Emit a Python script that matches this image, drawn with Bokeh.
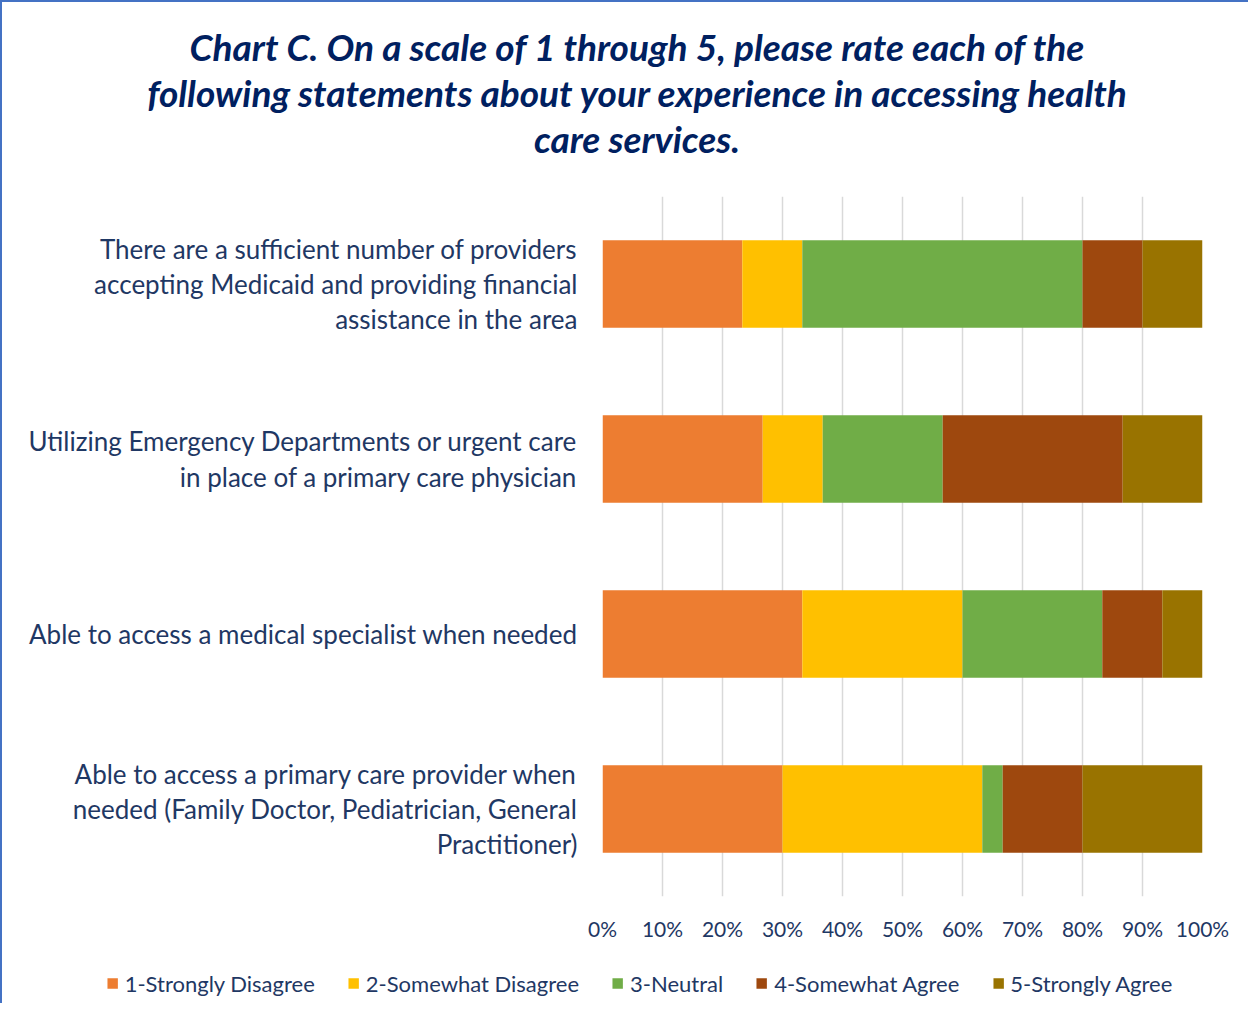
from bokeh.plotting import figure
from bokeh.layouts import column
from bokeh.models import ColumnDataSource, FactorRange, Legend, LegendItem, Div
from bokeh.embed import file_html
from bokeh.resources import INLINE

# ---------------- data ----------------
TITLE_LINES = ["Chart C. On a scale of 1 through 5, please rate each of the",
               "following statements about your experience in accessing health",
               "care services."]

CATEGORIES = [
    "There are a sufficient number of providers\naccepting Medicaid and providing financial\nassistance in the area",
    "Utilizing Emergency Departments or urgent care\nin place of a primary care physician",
    "Able to access a medical specialist when needed",
    "Able to access a primary care provider when\nneeded (Family Doctor, Pediatrician, General\nPractitioner)",
]
LEVELS = ["1-Strongly Disagree", "2-Somewhat Disagree", "3-Neutral",
          "4-Somewhat Agree", "5-Strongly Agree"]

strongly_disagree = [23.3, 26.7, 33.3, 30.0]
somewhat_disagree = [10.0, 10.0, 26.7, 33.3]
neutral           = [46.7, 20.0, 23.3, 3.4]
somewhat_agree    = [10.0, 30.0, 10.0, 13.3]
strongly_agree    = [10.0, 13.3, 6.7, 20.0]

TICKS = [0, 10, 20, 30, 40, 50, 60, 70, 80, 90, 100]
TICK_LABELS = ["0%", "10%", "20%", "30%", "40%", "50%", "60%", "70%", "80%", "90%", "100%"]

# ---------------- styles ----------------
COLORS = ["#ED7D31", "#FFC000", "#70AD47", "#9E480E", "#997300"]
NAVY = "#1F3864"
TITLE_NAVY = "#002060"
FONT = "Lato"
W = 1236
BORDER = "2px solid #4472C4"

source = ColumnDataSource(dict(
    cat=CATEGORIES,
    s1=strongly_disagree, s2=somewhat_disagree, s3=neutral,
    s4=somewhat_agree, s5=strongly_agree,
))
STACK = ["s1", "s2", "s3", "s4", "s5"]

# ---------------- title ----------------
title_div = Div(
    text=('<div style="width:1200px; text-align:center; margin-left:30px; padding-top:17px; '
          f'font-family:{FONT}; font-weight:bold; font-style:italic; font-size:37px; '
          f'line-height:46px; color:{TITLE_NAVY};">' + "<br>".join(TITLE_LINES) + "</div>"),
    width=W, height=176,
)

# ---------------- main chart ----------------
p = figure(
    width=W, height=755,
    y_range=FactorRange(factors=list(reversed(CATEGORIES))),
    output_backend="svg", toolbar_location=None,
    min_border_left=600, min_border_right=36, min_border_top=8, min_border_bottom=45,
)
p.outline_line_color = None
p.x_range.range_padding = 0

p.hbar_stack(STACK, y="cat", height=0.5, color=COLORS, line_color=None, source=source)

p.xaxis.ticker.desired_num_ticks = 11
p.xaxis.ticker.num_minor_ticks = 0
p.xgrid.grid_line_color = "#D9D9D9"
p.xgrid.grid_line_width = 1.5
p.ygrid.visible = False

p.xaxis.axis_line_color = None
p.xaxis.major_tick_line_color = None
p.xaxis.minor_tick_line_color = None
p.xaxis.major_tick_out = 0
p.xaxis.major_tick_in = 0
p.xaxis.major_label_overrides = {t: l for t, l in zip(TICKS, TICK_LABELS)}
p.xaxis.major_label_text_font = FONT
p.xaxis.major_label_text_font_size = "21px"
p.xaxis.major_label_text_color = NAVY
p.xaxis.major_label_standoff = 19

p.yaxis.axis_line_color = None
p.yaxis.major_tick_line_color = None
p.yaxis.minor_tick_line_color = None
p.yaxis.major_tick_out = 0
p.yaxis.major_tick_in = 0
p.yaxis.major_label_text_font = FONT
p.yaxis.major_label_text_font_size = "26px"
p.yaxis.major_label_text_color = NAVY
p.yaxis.major_label_text_line_height = 1.1
p.yaxis.major_label_standoff = 25

top = column(title_div, p, styles={"border-left": BORDER, "border-top": BORDER})

# ---------------- legend strip (separate root so its frame spans the full width) ----------------
pl = figure(
    width=W, height=60,
    y_range=FactorRange(factors=list(reversed(CATEGORIES))),
    x_axis_location=None, y_axis_location=None,
    output_backend="svg", toolbar_location=None,
    min_border_left=38, min_border_right=0, min_border_top=20, min_border_bottom=0,
)
pl.styles = {"border-left": BORDER}
pl.outline_line_color = None
pl.xgrid.visible = False
pl.ygrid.visible = False
leg_renderers = pl.hbar_stack(STACK, y="cat", height=0.5, color=COLORS, line_color=None,
                              source=source, visible=False)
legend = Legend(
    items=[LegendItem(label=lab, renderers=[r]) for lab, r in zip(LEVELS, leg_renderers)],
    orientation="horizontal", location="center",
    glyph_width=13, glyph_height=13, label_standoff=6, spacing=32,
    label_text_font=FONT, label_text_font_size="22px", label_text_color=NAVY,
    border_line_color=None, background_fill_alpha=0, padding=0, margin=0,
    inactive_fill_alpha=0,
)
pl.add_layout(legend)

open("out.html", "w").write(file_html([top, pl], INLINE))
